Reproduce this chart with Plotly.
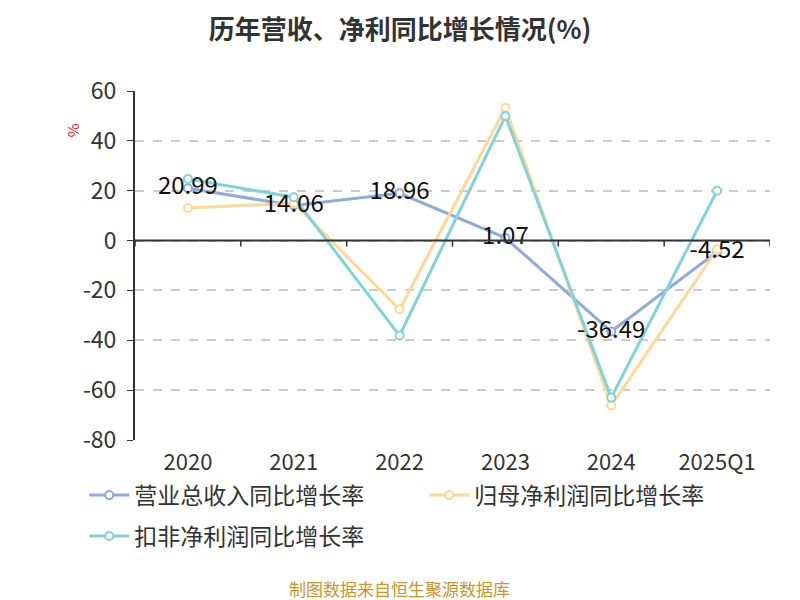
"""Year-over-year growth chart: revenue / net profit."""
import plotly.graph_objects as go

_BLUE = "#8FAADC"
_ORANGE = "#FFD898"
_TEAL = "#80D4D6"
_TEXT = "#333333"
_FONT = "Noto Sans CJK SC, Noto Sans, sans-serif"

periods = ["2020", "2021", "2022", "2023", "2024", "2025Q1"]
revenue_yoy = [20.99, 14.06, 18.96, 1.07, -36.49, -4.52]
net_profit_yoy = [13.1, 15.0, -27.6, 53.3, -66.2, -3.5]
deducted_profit_yoy = [24.7, 17.4, -38.1, 50.0, -63.0, 20.0]
y_ticks = [60, 40, 20, 0, -20, -40, -60, -80]

series = [
    ("营业总收入同比增长率", revenue_yoy, _BLUE, "legend"),
    ("归母净利润同比增长率", net_profit_yoy, _ORANGE, "legend"),
    ("扣非净利润同比增长率", deducted_profit_yoy, _TEAL, "legend2"),
]

# the page body adds an 8px offset, so margins are trimmed by that much
_OFF = 8

fig = go.Figure()
for name, values, color, leg in series:
    fig.add_trace(go.Scatter(
        x=periods, y=values, name=name, legend=leg,
        mode="lines+markers",
        line=dict(color=color, width=3),
        marker=dict(size=8, color="white", line=dict(color=color, width=2)),
    ))

# value labels of the revenue series, kept on top of all lines
fig.add_trace(go.Scatter(
    x=periods, y=revenue_yoy, mode="text", showlegend=False,
    text=[f"{v:.2f}" for v in revenue_yoy],
    textposition="middle center",
    textfont=dict(size=24, color="#111111"),
    hoverinfo="skip",
))

# x axis line drawn at y = 0 with ticks on category boundaries
n = len(periods)
fig.add_shape(type="line", xref="x", yref="y", x0=-0.5, x1=n - 0.5, y0=0, y1=0,
              line=dict(color=_TEXT, width=2))
for i in range(n + 1):
    fig.add_shape(type="line", xref="x", yref="y", ysizemode="pixel", yanchor=0,
                  x0=i - 0.5, x1=i - 0.5, y0=0, y1=-6,
                  line=dict(color=_TEXT, width=1.5))

fig.add_annotation(text="%", xref="paper", yref="paper", x=-0.099, y=0.888,
                   xanchor="center", yanchor="middle",
                   showarrow=False, textangle=-90,
                   font=dict(size=15, color="#E02020"))
fig.add_annotation(text="制图数据来自恒生聚源数据库", xref="paper", yref="paper",
                   x=0.417, y=-0.425,
                   xanchor="center", yanchor="middle",
                   showarrow=False, font=dict(size=17, color="#C8952A"))

legend_common = dict(orientation="h", xanchor="left", yanchor="middle",
                     bgcolor="rgba(0,0,0,0)", itemwidth=40,
                     font=dict(size=23, color=_TEXT),
                     entrywidth=285, entrywidthmode="pixels")

fig.update_layout(
    width=800, height=600,
    paper_bgcolor="white", plot_bgcolor="white",
    font=dict(family=_FONT, color=_TEXT, size=20),
    title=dict(text="<b>历年营收、净利同比增长情况(%)</b>", x=0.49, xanchor="center",
               y=0.964, yanchor="middle", font=dict(size=26, color=_TEXT)),
    margin=dict(l=135 - _OFF, r=30 + _OFF, t=91 - _OFF, b=160 + _OFF),
    showlegend=True,
    legend=dict(x=-0.08, y=-0.158, **legend_common),
    legend2=dict(x=-0.08, y=-0.275, **legend_common),
    xaxis=dict(showgrid=False, showline=False, ticks="", zeroline=False,
               range=[-0.5, n - 0.5], ticklabelstandoff=7,
               tickfont=dict(size=22, color=_TEXT)),
    yaxis=dict(range=[-80, 60], tickvals=y_ticks, ticktext=[str(v) for v in y_ticks],
               showgrid=True, gridcolor="#CCCCCC",
               griddash="dash", gridwidth=1.5, zeroline=False,
               showline=True, linecolor=_TEXT, linewidth=2,
               ticks="outside", ticklen=6, tickcolor=_TEXT, ticklabelstandoff=6,
               tickfont=dict(size=23, color=_TEXT)),
)

fig.write_html("out.html")
